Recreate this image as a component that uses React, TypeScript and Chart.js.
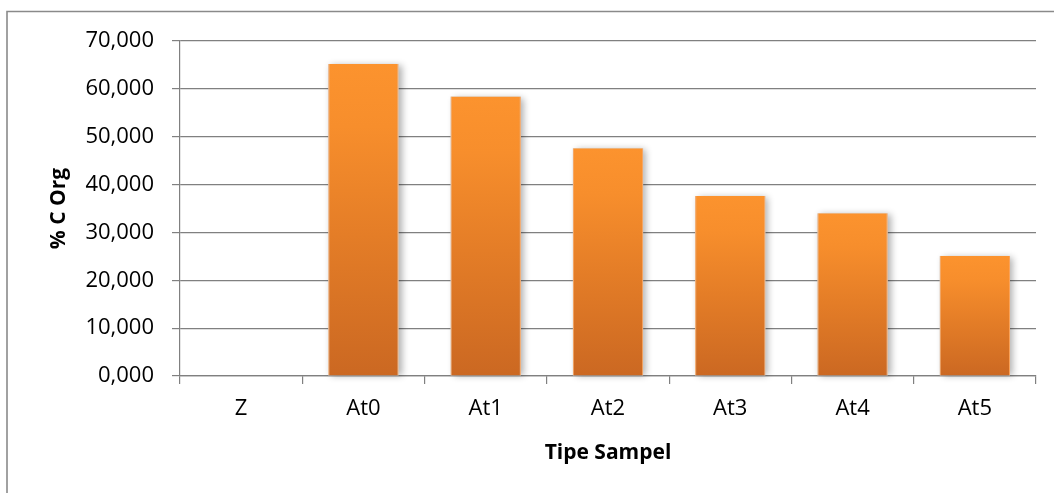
import React, { useEffect, useRef } from "react";
import { Chart, registerables } from "chart.js";

Chart.register(...registerables);

// Sample types and their organic carbon content (%)
const categories = ["Z", "At0", "At1", "At2", "At3", "At4", "At5"];
const cOrgValues = [0, 65.2, 58.4, 47.6, 37.6, 34.0, 25.1];
const yTickValues = [0, 10, 20, 30, 40, 50, 60, 70];

const FONT = "'Open Sans', 'Noto Sans', sans-serif";
const W = 1054;
const H = 493;

// Thin grey frame around the chart object (left and top edges visible)
const framePlugin = {
  id: "frame",
  beforeDraw(chart: any) {
    const c = chart.ctx;
    c.save();
    c.fillStyle = "#ffffff";
    c.fillRect(0, 0, chart.width, chart.height);
    c.strokeStyle = "#8a8a8a";
    c.lineWidth = 1.6;
    c.beginPath();
    c.moveTo(7, chart.height);
    c.lineTo(7, 11.5);
    c.lineTo(chart.width, 11.5);
    c.stroke();
    c.restore();
  },
};

// Soft drop shadow painted under each bar before the bars themselves
const barShadowPlugin = {
  id: "barShadow",
  beforeDatasetsDraw(chart: any) {
    const c = chart.ctx;
    const meta = chart.getDatasetMeta(0);
    c.save();
    c.shadowColor = "rgba(0,0,0,0.32)";
    c.shadowBlur = 7;
    c.shadowOffsetX = 3;
    c.shadowOffsetY = 1;
    c.fillStyle = "#d8d8d8";
    meta.data.forEach((bar: any) => {
      const { x, y, base, width } = bar.getProps(["x", "y", "base", "width"], true);
      const h = base - y;
      if (h <= 0.5) return;
      c.fillRect(x - width / 2, y, width, h);
    });
    c.restore();
  },
};

function barGradient(context: any) {
  const chart = context.chart;
  const y = chart.scales && chart.scales.y;
  if (!y || context.type !== "data" || !context.parsed) return "#F28A2E";
  const top = y.getPixelForValue(context.parsed.y);
  const bottom = y.getPixelForValue(0);
  if (!isFinite(top) || !isFinite(bottom) || top === bottom) return "#F28A2E";
  const g = chart.ctx.createLinearGradient(0, bottom, 0, top);
  g.addColorStop(0, "#CB6822");
  g.addColorStop(0.45, "#E47D27");
  g.addColorStop(0.8, "#F78E2C");
  g.addColorStop(1, "#FC932E");
  return g;
}

export default function App() {
  const canvasRef = useRef<HTMLCanvasElement | null>(null);

  useEffect(() => {
    if (!canvasRef.current) return;
    const chart = new Chart(canvasRef.current, {
      type: "bar",
      data: {
        labels: categories,
        datasets: [
          {
            label: "% C Org",
            data: cOrgValues,
            backgroundColor: barGradient,
            borderColor: "#F9A25A",
            borderWidth: { left: 1, right: 1, top: 0, bottom: 0 },
            borderSkipped: false,
            categoryPercentage: 1,
            barPercentage: 0.575,
          },
        ],
      },
      options: {
        animation: false,
        responsive: false,
        devicePixelRatio: 1,
        layout: { padding: { left: 0, top: 41, right: 18, bottom: 0 } },
        plugins: {
          legend: { display: false },
          tooltip: { enabled: false },
        },
        scales: {
          x: {
            offset: true,
            grid: {
              display: true,
              offset: true,
              drawOnChartArea: false,
              drawTicks: true,
              tickLength: 8,
              color: "#808080",
              lineWidth: 1.2,
            },
            border: { display: true, color: "#808080", width: 1.2 },
            ticks: {
              color: "#000000",
              padding: 12,
              font: { family: FONT, size: 22 },
              maxRotation: 0,
            },
            title: {
              display: true,
              text: "Tipe Sampel",
              color: "#000000",
              font: { family: FONT, size: 21, weight: "bold" },
              padding: { top: 0, bottom: 27 },
            },
            afterFit(scale: any) {
              scale.height = 117;
            },
          },
          y: {
            min: 0,
            max: 70,
            afterBuildTicks(scale: any) {
              scale.ticks = yTickValues.map((v) => ({ value: v }));
            },
            grid: {
              color: "#808080",
              lineWidth: 1.2,
              drawTicks: true,
              tickLength: 8,
            },
            border: { display: true, color: "#808080", width: 1.2 },
            ticks: {
              color: "#000000",
              padding: 18,
              font: { family: FONT, size: 22 },
              callback: (v: any) => Number(v).toFixed(3).replace(".", ","),
            },
            title: {
              display: true,
              text: "% C Org",
              color: "#000000",
              font: { family: FONT, size: 21, weight: "bold" },
              padding: { top: 46, bottom: 0 },
            },
            afterFit(scale: any) {
              scale.width = 180;
            },
          },
        },
      },
      plugins: [framePlugin, barShadowPlugin],
    });
    return () => chart.destroy();
  }, []);

  return (
    <div style={{ position: "absolute", left: 0, top: 0, width: W, height: H, background: "#fff" }}>
      <canvas ref={canvasRef} width={W} height={H} style={{ display: "block" }} />
    </div>
  );
}
